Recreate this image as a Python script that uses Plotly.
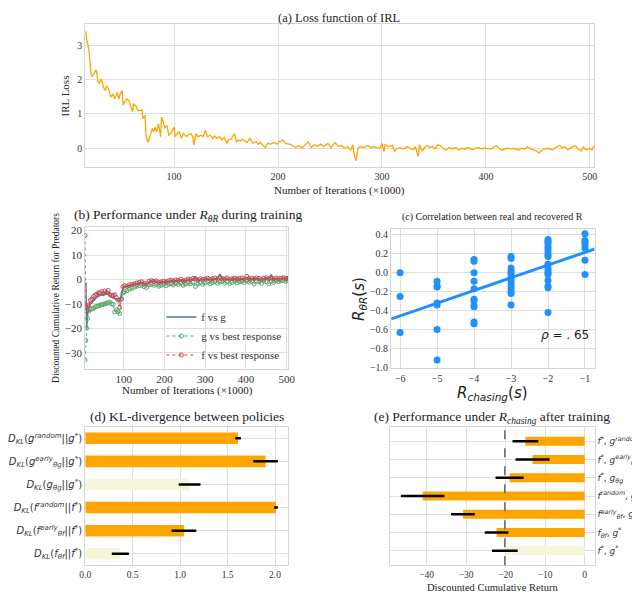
import numpy as np
import plotly.graph_objects as go

SERIF = "Liberation Serif"
SANS = "DejaVu Sans"
ORANGE = "#FFA500"
BEIGE = "#F5F5DC"
GRID = "#dedede"

# (a) IRL loss
loss_iter = [15, 16, 18, 20, 21, 23, 25, 27, 28, 30, 32, 34, 35, 37, 39, 41, 43, 45, 47, 48,
             50, 51, 53, 55, 57, 58, 60, 61, 64, 65, 68, 69, 70, 72, 73, 75, 76, 79, 80, 82,
             83, 85, 87, 88, 90, 91, 93, 95, 97, 100, 101, 103, 105, 107, 109, 112, 113, 116, 118, 119,
             121, 123, 126, 128, 130, 132, 135, 137, 139, 141, 144, 146, 148, 151, 152, 155, 157, 158, 160, 162,
             164, 166, 170, 173, 176, 179, 181, 183, 185, 188, 190, 193, 196, 199, 201, 205, 207, 211, 214, 217,
             220, 223, 226, 229, 232, 235, 238, 241, 244, 248, 251, 255, 258, 261, 264, 267, 270, 272, 273, 275,
             277, 279, 283, 286, 289, 292, 295, 298, 300, 302, 303, 306, 310, 312, 314, 317, 321, 324, 327, 330,
             332, 335, 336, 339, 341, 344, 346, 349, 351, 354, 356, 358, 361, 365, 368, 371, 374, 377, 380, 383,
             387, 390, 393, 396, 399, 402, 405, 410, 413, 416, 420, 424, 427, 431, 434, 437, 440, 443, 446, 449,
             451, 454, 457, 460, 464, 467, 471, 474, 476, 479, 482, 486, 489, 492, 494, 496, 500, 502, 504]
loss_value = [3.41, 3.17, 2.88, 2.16, 2.09, 2.21, 2.29, 1.92, 1.90, 2.02, 1.78, 1.68, 1.83, 1.73, 1.49, 1.58, 1.44, 1.63, 1.44, 1.58,
              1.68, 1.25, 1.39, 1.44, 1.36, 1.25, 1.06, 1.30, 1.20, 1.10, 1.10, 1.13, 0.86, 0.96, 0.38, 0.17, 0.29, 0.58, 0.48, 0.62,
              0.48, 0.72, 0.34, 0.91, 0.72, 0.58, 0.67, 0.38, 0.43, 0.62, 0.34, 0.43, 0.48, 0.29, 0.43, 0.34, 0.38, 0.43, 0.34, 0.10,
              0.43, 0.34, 0.38, 0.34, 0.53, 0.34, 0.38, 0.29, 0.36, 0.29, 0.34, 0.24, 0.31, 0.14, 0.24, 0.27, 0.38, 0.43, 0.19, 0.24,
              0.21, 0.27, 0.17, 0.29, 0.14, 0.19, 0.12, 0.17, 0.10, 0.02, 0.14, 0.12, 0.17, 0.12, 0.19, 0.24, 0.14, 0.12, 0.08, 0.02,
              0.08, 0.00, 0.10, 0.19, 0.02, 0.10, 0.05, 0.12, 0.05, 0.14, 0.02, 0.17, 0.05, 0.08, 0.00, 0.05, -0.05, 0.10, -0.14, -0.37,
              0.00, 0.05, 0.02, 0.08, 0.02, 0.05, 0.02, 0.00, 0.14, -0.10, 0.10, 0.05, 0.08, -0.08, -0.02, 0.02, -0.02, 0.05, 0.00, -0.05,
              0.05, -0.24, 0.10, -0.08, 0.02, 0.08, 0.02, 0.05, -0.02, 0.10, 0.08, 0.02, -0.05, 0.02, -0.02, 0.02, -0.05, 0.00, -0.02, 0.02,
              -0.05, 0.00, 0.02, -0.02, 0.02, -0.02, -0.02, 0.08, -0.02, -0.05, 0.00, -0.02, 0.00, -0.05, 0.00, -0.02, 0.05, -0.02, -0.05, -0.08,
              -0.14, -0.05, -0.02, 0.00, -0.05, 0.02, 0.08, 0.00, 0.05, -0.05, 0.02, 0.08, -0.02, -0.08, 0.05, -0.05, 0.00, -0.05, 0.08]

# (b) performance under R_theta during training
train_iter = [5, 7, 9, 11, 14, 18, 22, 26, 30, 34, 38, 42, 46, 50, 54, 58, 62, 66, 70, 74,
              78, 82, 86, 90, 94, 98, 102, 108, 114, 120, 126, 132, 138, 144, 150, 156, 162, 168, 174, 180,
              186, 192, 198, 204, 210, 216, 222, 228, 234, 240, 246, 252, 258, 264, 270, 276, 282, 288, 294, 300,
              306, 312, 318, 324, 330, 336, 342, 348, 354, 360, 366, 372, 378, 384, 390, 396, 402, 408, 414, 420,
              426, 432, 438, 444, 450, 456, 462, 468, 474, 480, 486, 492, 498, 504]
ret_f_vs_g = [-1.5, -1.5, -20, -14, -11.5, -10, -9.5, -8.5, -8, -7.2, -6.8, -6.5, -6.2, -6.5, -5.8, -6, -5.5, -6.8, -7.4, -7.6,
              -7.8, -8, -8.5, -9.3, -6.5, -3.5, -3, -3.0, -2.5, -2.3, -2.0, -1.8, -1.5, -1.3, -1.8, -2.0, -1.0, -0.8, -1.0, -0.9,
              -1.4, -1.2, -0.9, -1.2, -0.8, -0.6, -0.8, -0.5, -0.6, -0.2, -0.8, -0.5, -0.1, -0.3, 0.1, 1.0, -0.5, 0.0, -0.2, 0.0,
              0.2, -0.2, 0.0, 0.3, 0.0, 2.2, 0.2, 0.0, 0.3, -0.2, 0.1, 0.3, 0.0, 0.2, 0.3, -0.1, 0.8, 0.1, 0.3, 0.0,
              0.4, 0.2, -0.2, 0.3, 0.5, 0.1, 2.0, 0.0, 0.4, 0.1, 0.3, 0.5, 0.2, 0.3]
ret_g_vs_best = [-33, -25, -20, -16, -13, -12.4, -12, -11.8, -11.2, -11, -10.8, -10.5, -10.4, -10.2, -10, -9.8, -9.5, -9.3, -10, -10.2,
                 -13.3, -12.5, -13.2, -14, -8, -5.5, -5, -4.6, -4.0, -3.6, -3.2, -2.8, -2.6, -2.3, -3.0, -3.3, -2.2, -2.0, -2.4, -2.1,
                 -2.8, -2.5, -2.2, -2.6, -2.0, -1.8, -2.3, -1.7, -2.0, -1.5, -2.4, -1.9, -1.4, -1.8, -1.2, -2.9, -1.9, -1.3, -2.0, -1.4,
                 -1.0, -1.8, -1.3, -0.9, -1.6, -1.1, -0.8, -1.5, -0.9, -1.7, -1.2, -0.8, -1.4, -1.0, -0.7, -1.3, -0.6, -1.1, -0.8, -1.9,
                 -0.7, -1.0, -1.6, -0.6, -0.9, -1.8, -0.7, -1.2, -0.5, -0.9, -0.6, -0.4, -0.8, -0.5]
ret_f_vs_best = [18, -11, -13, -11, -10.5, -8.5, -8, -7, -6.5, -6, -5.5, -5.5, -5, -5.8, -4.7, -5.3, -4.5, -6.2, -6.6, -6.5,
                 -6.3, -7.5, -8.5, -11.5, -8, -3, -2.5, -2.8, -2.2, -2.0, -1.8, -1.5, -1.2, -1.0, -1.6, -1.8, -0.7, -0.5, -0.8, -0.6,
                 -1.2, -1.0, -0.7, -1.0, -0.5, -0.3, -0.6, -0.2, -0.4, 0.1, -0.6, -0.3, 0.2, 0.0, 0.4, 0.3, -0.3, 0.3, 0.0, 0.2,
                 0.5, 0.0, 0.3, 0.6, 0.2, 0.9, 0.4, 0.2, 0.6, 0.0, 0.3, 0.5, 0.2, 0.4, 0.6, 0.1, 1.3, 0.3, 0.5, 0.2,
                 0.6, 0.4, 0.0, 0.5, 0.7, 0.3, 0.5, 0.2, 0.6, 0.3, 0.5, 0.7, 0.4, 0.5]

# (c) real vs recovered reward
reward_chasing = [-6, -6, -6,
                  -5, -5, -5, -5, -5, -5, -5,
                  -4, -4, -4, -4, -4, -4, -4, -4, -4, -4, -4,
                  -3, -3, -3, -3, -3, -3, -3, -3, -3, -3, -3, -3, -3, -3,
                  -2, -2, -2, -2, -2, -2, -2, -2, -2, -2, -2, -2, -2, -2, -2, -2, -2,
                  -1, -1, -1, -1, -1, -1, -1]
reward_recovered = [0.0, -0.25, -0.63,
                    -0.09, -0.14, -0.15, -0.32, -0.34, -0.60, -0.92,
                    0.14, 0.12, 0.0, -0.09, -0.17, -0.28, -0.30, -0.35, -0.36, -0.52, -0.54,
                    0.17, 0.15, 0.05, 0.02, 0.0, -0.02, -0.05, -0.08, -0.11, -0.14, -0.17, -0.20, -0.22, -0.34,
                    0.35, 0.33, 0.31, 0.28, 0.25, 0.22, 0.19, 0.17, 0.09, 0.05, 0.02, 0.0, -0.02, -0.08, -0.14, -0.16, -0.42,
                    0.41, 0.34, 0.32, 0.30, 0.26, 0.13, -0.02]

# (d) KL divergence between policies
kl_labels = ["<i>D</i><sub><i>KL</i></sub>(<i>g</i><sup><i>random</i></sup>||<i>g</i><sup>*</sup>)",
             "<i>D</i><sub><i>KL</i></sub>(<i>g</i><sup><i>early</i></sup><sub><i>θg</i></sub>||<i>g</i><sup>*</sup>)",
             "<i>D</i><sub><i>KL</i></sub>(<i>g</i><sub><i>θg</i></sub>||<i>g</i><sup>*</sup>)",
             "<i>D</i><sub><i>KL</i></sub>(<i>f</i><sup><i>random</i></sup>||<i>f</i><sup>*</sup>)",
             "<i>D</i><sub><i>KL</i></sub>(<i>f</i><sup><i>early</i></sup><sub><i>θf</i></sub>||<i>f</i><sup>*</sup>)",
             "<i>D</i><sub><i>KL</i></sub>(<i>f</i><sub><i>θf</i></sub>||<i>f</i><sup>*</sup>)"]
kl_mean = [1.61, 1.90, 1.10, 2.01, 1.04, 0.37]
kl_err = [0.03, 0.13, 0.115, 0.02, 0.13, 0.09]

# (e) performance under R_chasing after training
perf_labels = ["<i>f</i><sup>*</sup>, <i>g</i><sup><i>random</i></sup>",
               "<i>f</i><sup>*</sup>, <i>g</i><sup><i>early</i></sup><sub><i>θg</i></sub>",
               "<i>f</i><sup>*</sup>, <i>g</i><sub><i>θg</i></sub>",
               "<i>f</i><sup><i>random</i></sup>, <i>g</i><sup>*</sup>",
               "<i>f</i><sup><i>early</i></sup><sub><i>θf</i></sub>, <i>g</i><sup>*</sup>",
               "<i>f</i><sub><i>θf</i></sub>, <i>g</i><sup>*</sup>",
               "<i>f</i><sup>*</sup>, <i>g</i><sup>*</sup>"]
perf_mean = [-15.0, -13.2, -19.0, -41.0, -30.8, -22.3, -20.2]
perf_err = [3.25, 4.3, 3.55, 5.5, 3.0, 3.0, 3.25]

learned_kl = [2, 5]
learned_perf = [6]

fig = go.Figure()

fig.add_trace(go.Scatter(x=loss_iter, y=loss_value, mode="lines", line=dict(color=ORANGE, width=1.3),
                         xaxis="x", yaxis="y", showlegend=False))

fig.add_trace(go.Scatter(x=train_iter, y=ret_f_vs_g, mode="lines", name="f vs g",
                         line=dict(color="#4C72B0", width=1.5), xaxis="x2", yaxis="y2"))
fig.add_trace(go.Scatter(x=train_iter, y=ret_g_vs_best, mode="lines+markers", name="g vs best response",
                         line=dict(color="#55A868", width=1, dash="dot"),
                         marker=dict(symbol="circle-open", size=4, color="#55A868", line=dict(width=1)),
                         xaxis="x2", yaxis="y2"))
fig.add_trace(go.Scatter(x=train_iter, y=ret_f_vs_best, mode="lines+markers", name="f vs best response",
                         line=dict(color="#C44E52", width=1, dash="dot"),
                         marker=dict(symbol="circle-open", size=4, color="#C44E52", line=dict(width=1)),
                         xaxis="x2", yaxis="y2"))

c_range = [-6.24, -0.74]
slope, intercept = np.polyfit(reward_chasing, reward_recovered, 1)
fit_x = np.array(c_range)
fig.add_trace(go.Scatter(x=reward_chasing, y=reward_recovered, mode="markers",
                         marker=dict(color="#1E90FF", size=7), xaxis="x3", yaxis="y3", showlegend=False))
fig.add_trace(go.Scatter(x=fit_x, y=slope * fit_x + intercept, mode="lines",
                         line=dict(color="#1E90FF", width=3), xaxis="x3", yaxis="y3", showlegend=False))

fig.add_trace(go.Bar(x=kl_mean, y=kl_labels, orientation="h", width=0.5,
                     marker=dict(color=[BEIGE if i in learned_kl else ORANGE for i in range(len(kl_mean))], line=dict(width=0)),
                     error_x=dict(type="data", array=kl_err, color="black", thickness=2.5, width=0),
                     xaxis="x4", yaxis="y4", showlegend=False))

fig.add_trace(go.Bar(x=perf_mean, y=perf_labels, orientation="h", width=0.5,
                     marker=dict(color=[BEIGE if i in learned_perf else ORANGE for i in range(len(perf_mean))], line=dict(width=0)),
                     error_x=dict(type="data", array=perf_err, color="black", thickness=2.5, width=0),
                     xaxis="x5", yaxis="y5", showlegend=False))


def ax(**kw):
    base = dict(showgrid=True, gridcolor=GRID, gridwidth=1, showline=True, linecolor="#d4d4d4",
                linewidth=1.2, mirror=True, zeroline=False, ticks="",
                tickfont=dict(family=SERIF, size=10, color="#333"))
    base.update(kw)
    return base


fig.update_layout(
    width=640, height=592, margin=dict(l=0, r=0, t=0, b=0),
    plot_bgcolor="white", paper_bgcolor="white",
    xaxis=ax(domain=[0.1136, 0.925], anchor="y", range=[14.5, 504], tickvals=[100, 200, 300, 400, 500]),
    yaxis=ax(domain=[0.7314, 0.9764], anchor="x", range=[-0.55, 3.63], tickvals=[0, 1, 2, 3]),
    xaxis2=ax(domain=[0.1136, 0.4375], anchor="y2", range=[5.5, 504], tickvals=[100, 200, 300, 400, 500],
              tickfont=dict(family=SERIF, size=11, color="#333")),
    yaxis2=ax(domain=[0.3863, 0.6296], anchor="x2", range=[-36.7, 21.6], tickvals=[-30, -20, -10, 0, 10, 20],
              tickfont=dict(family=SERIF, size=11, color="#333")),
    xaxis3=ax(domain=[0.6016, 0.926], anchor="y3", range=c_range, tickvals=[-6, -5, -4, -3, -2, -1]),
    yaxis3=ax(domain=[0.3873, 0.6255], anchor="x3", range=[-1.01, 0.46],
              tickvals=[-1.0, -0.8, -0.6, -0.4, -0.2, 0.0, 0.2, 0.4], tickformat=".1f"),
    xaxis4=ax(domain=[0.1136, 0.4375], anchor="y4", range=[0, 2.14], tickvals=[0, 0.5, 1.0, 1.5, 2.0], tickformat=".1f",
              tickfont=dict(family=SERIF, size=9.5, color="#333")),
    yaxis4=ax(domain=[0.0507, 0.2877], anchor="x4", type="category", range=[5.5, -0.5],
              tickfont=dict(family=SANS, size=10, color="#333")),
    xaxis5=ax(domain=[0.6, 0.926], anchor="y5", range=[-49.2, 2.5], tickvals=[-40, -30, -20, -10, 0],
              tickfont=dict(family=SERIF, size=9.5, color="#333")),
    yaxis5=ax(domain=[0.0507, 0.2877], anchor="x5", type="category", range=[6.8, -0.8], side="right",
              tickfont=dict(family=SANS, size=9, color="#333")),
    legend=dict(x=0.235, y=0.50, xanchor="left", yanchor="top", bgcolor="rgba(0,0,0,0)",
                font=dict(family=SERIF, size=11, color="#333"), tracegroupgap=0),
)

# reference line at the f*, g* return
fig.add_shape(type="line", xref="x5", yref="y5 domain", x0=perf_mean[-1], x1=perf_mean[-1], y0=0, y1=1,
              line=dict(color="#666", width=1.5, dash="dash"))

texts = [
    (0.519, 0.9865, "(a) Loss function of IRL", SERIF, 12.5, 0, "middle"),
    (0.519, 0.691, "Number of Iterations (×1000)", SERIF, 11, 0, "middle"),
    (0.082, 0.853, "IRL Loss", SERIF, 11, -90, "middle"),
    (0.277, 0.6486, "(b) Performance under <i>R</i><sub><i>θR</i></sub> during training", SERIF, 13.5, 0, "middle"),
    (0.277, 0.3497, "Number of Iterations (×1000)", SERIF, 11, 0, "middle"),
    (0.066, 0.5084, "Discounted Cumulative Return for Predators", SERIF, 9.5, -90, "middle"),
    (0.7625, 0.647, "(c) Correlation between real and recovered R", SERIF, 10, 0, "middle"),
    (0.7625, 0.345, "<i>R</i><sub><i>chasing</i></sub>(<i>s</i>)", SANS, 15, 0, "middle"),
    (0.551, 0.507, "<i>R</i><sub><i>θR</i></sub>(<i>s</i>)", SANS, 15, -90, "middle"),
    (0.276, 0.3046, "(d) KL-divergence between policies", SERIF, 13.5, 0, "middle"),
    (0.7625, 0.3029, "(e) Performance under <i>R</i><sub><i>chasing</i></sub> after training", SERIF, 13.5, 0, "middle"),
    (0.7625, 0.002, "Discounted Cumulative Return", SERIF, 10.5, 0, "bottom"),
]
for x, y, t, fam, size, ang, va in texts:
    fig.add_annotation(x=x, y=y, xref="paper", yref="paper", text=t, showarrow=False, textangle=ang,
                       xanchor="center", yanchor=va, borderpad=0,
                       font=dict(family=fam, size=size, color="#222"))

fig.add_annotation(x=-1.55, y=-0.655, xref="x3", yref="y3", text="<i>ρ</i> = . 65", showarrow=False,
                   font=dict(family=SANS, size=12, color="#222"))

fig.write_html("out.html")
